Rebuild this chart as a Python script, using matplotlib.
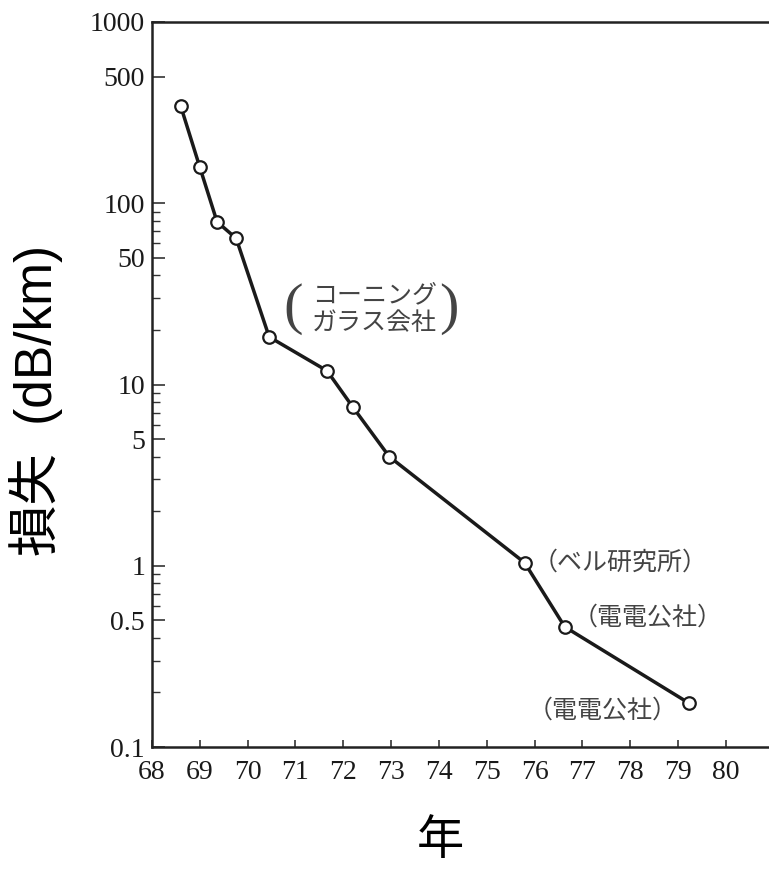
import matplotlib
matplotlib.use("Agg")
import matplotlib.pyplot as plt
from matplotlib.ticker import FixedLocator, NullFormatter

# ---- data ----
years = [68.6, 69.0, 69.36, 69.76, 70.45, 71.66, 72.2, 72.96, 75.79, 76.63, 79.22]
loss_db_km = [344, 158, 79, 64, 18.3, 11.9, 7.5, 4.0, 1.04, 0.46, 0.175]

x_ticks = list(range(68, 81))
y_ticks = [0.1, 0.5, 1, 5, 10, 50, 100, 500, 1000]
y_tick_labels = ["0.1", "0.5", "1", "5", "10", "50", "100", "500", "1000"]
y_minor = [0.2, 0.3, 0.4, 0.6, 0.7, 0.8, 0.9,
           2, 3, 4, 6, 7, 8, 9,
           20, 30, 40, 60, 70, 80, 90]

notes = ["（ベル研究所）", "（電電公社）", "（電電公社）"]
note_xy = [(75.95, 1.035), (76.8, 0.52), (75.85, 0.158)]
corning_lines = ["コーニング", "ガラス会社"]

W, H = 769, 871
fig = plt.figure(figsize=(W / 100, H / 100), dpi=100)
fig.patch.set_facecolor("white")
ax = fig.add_axes([152 / W, (H - 747) / H, (W - 152) / W, (747 - 22) / H])

ax.plot(years, loss_db_km, color="#1a1a1a", lw=2.5, marker="o", markersize=9,
        markerfacecolor="white", markeredgecolor="#1a1a1a", markeredgewidth=1.6,
        zorder=3)

ax.set_yscale("log")
ax.set_ylim(0.1, 1000)
ax.set_xlim(68, 80.9)

ax.yaxis.set_major_locator(FixedLocator(y_ticks))
ax.set_yticklabels(y_tick_labels)
ax.yaxis.set_minor_locator(FixedLocator(y_minor))
ax.yaxis.set_minor_formatter(NullFormatter())
ax.set_xticks(x_ticks)
ax.set_xticklabels([str(v) for v in x_ticks])

serif = "Liberation Serif"
for lab in ax.get_xticklabels() + ax.get_yticklabels():
    lab.set_fontfamily(serif)
    lab.set_fontsize(20)
    lab.set_color("#1a1a1a")

ax.tick_params(axis="y", which="major", direction="in", length=9, width=1.2,
               pad=5, color="#333333")
ax.tick_params(axis="y", which="minor", direction="in", length=6, width=1.0,
               color="#333333")
ax.tick_params(axis="x", which="major", direction="in", length=5, width=1.2,
               pad=9, color="#333333")
ax.tick_params(axis="x", which="minor", length=0)

for side in ["left", "bottom", "top"]:
    ax.spines[side].set_linewidth(1.8)
    ax.spines[side].set_color("#222222")
ax.spines["right"].set_visible(False)

cjk = ["Liberation Sans", "Noto Sans CJK JP"]
fig.text(36 / W, 1 - 400 / H, "損失  (dB/km)", rotation=90, ha="center",
         va="center", fontsize=37, family=cjk, color="black")
fig.text(440 / W, 1 - 842 / H, "年", ha="center", va="center", fontsize=34,
         family=cjk, color="black")

note_font = ["Noto Sans CJK JP"]
for txt, (x, y) in zip(notes, note_xy):
    ax.text(x, y, txt, ha="left", va="center", fontsize=18, family=note_font,
            color="#444444")

ax.text(72.65, 31.0, corning_lines[0], ha="center", va="center", fontsize=18,
        family=note_font, color="#444444")
ax.text(72.65, 21.8, corning_lines[1], ha="center", va="center", fontsize=18,
        family=note_font, color="#444444")
ax.text(70.95, 26.0, "(", ha="center", va="center", fontsize=42, family=serif,
        color="#444444")
ax.text(74.2, 26.0, ")", ha="center", va="center", fontsize=42, family=serif,
        color="#444444")

fig.savefig("out.png", dpi=100, facecolor="white")
